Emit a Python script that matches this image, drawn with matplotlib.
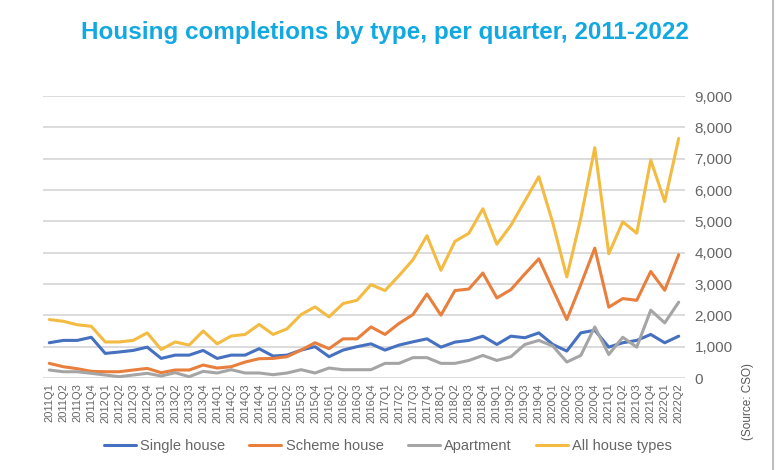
import matplotlib.pyplot as plt

# quarters 2011Q1 .. 2022Q2
quarters = [f'{y}Q{q}' for y in range(2011, 2023) for q in range(1, 5)][:46]

single_house = [1125, 1200, 1200, 1300, 785, 830, 880, 985, 625, 730,
                730, 880, 625, 730, 730, 935, 700, 730, 890, 1000,
                680, 890, 1000, 1090, 890, 1050, 1155, 1250, 985, 1145,
                1200, 1335, 1070, 1335, 1285, 1440, 1070, 860, 1440, 1525,
                985, 1125, 1200, 1390, 1125, 1335]
scheme_house = [467, 360, 297, 212, 200, 200, 255, 307, 170, 255,
                255, 414, 318, 360, 509, 615, 625, 680, 890, 1125,
                935, 1250, 1250, 1630, 1390, 1740, 2025, 2680, 2005, 2790,
                2840, 3350, 2555, 2820, 3320, 3805, 2830, 1865, 2980, 4145,
                2260, 2535, 2480, 3400, 2800, 3935]
apartment = [255, 200, 200, 150, 95, 42, 95, 150, 64, 170,
             42, 212, 160, 265, 160, 160, 106, 160, 265, 160,
             318, 265, 265, 265, 467, 467, 650, 650, 467, 467,
             560, 720, 560, 680, 1070, 1200, 1020, 510, 720, 1630,
             750, 1300, 985, 2165, 1760, 2420]
all_types = [1866, 1810, 1700, 1650, 1150, 1150, 1200, 1440, 910, 1150,
             1050, 1500, 1090, 1340, 1390, 1710, 1390, 1570, 2025, 2270,
             1950, 2375, 2480, 2980, 2790, 3265, 3775, 4540, 3436, 4360,
             4620, 5400, 4270, 4870, 5650, 6425, 4950, 3225, 5100, 7350,
             3965, 4985, 4620, 6955, 5630, 7645]

series = [
    ('Single house', single_house, '#4670C0'),
    ('Scheme house', scheme_house, '#E97F3C'),
    ('Apartment', apartment, '#A5A5A5'),
    ('All house types', all_types, '#F4BB42'),
]

plt.rcParams['font.family'] = ['Liberation Sans', 'DejaVu Sans']

fig = plt.figure(figsize=(7.8, 4.7), dpi=100)
ax = fig.add_axes([43 / 780, 1 - 378 / 470, 642 / 780, 282 / 470])

x = list(range(len(quarters)))
for name, values, colour in series:
    ax.plot(x, values, color=colour, lw=2.2, label=name, solid_capstyle='round')

ax.set_xlim(-0.45, 45.45)
ax.set_ylim(0, 9000)
ax.set_yticks(range(0, 9001, 1000))
ax.set_yticklabels([f'{v:,}' for v in range(0, 9001, 1000)])
ax.yaxis.tick_right()
ax.set_xticks(x)
ax.set_xticklabels(quarters, rotation=90, fontsize=8, color='#666666')
ax.tick_params(axis='y', length=0, pad=7, labelsize=11, labelcolor='#666666')
ax.tick_params(axis='x', length=0, pad=4)
ax.grid(axis='y', color='#D9D9D9', lw=1.3)
ax.set_axisbelow(True)
for side in ['top', 'left', 'right', 'bottom']:
    ax.spines[side].set_visible(False)

fig.suptitle('Housing completions by type, per quarter, 2011-2022',
             x=385 / 780, y=1 - 33 / 470, va='center', fontsize=17.5,
             fontweight='bold', color='#12A8E2')

fig.legend(loc='center', bbox_to_anchor=(388 / 780, 1 - 446 / 470), ncol=4,
           frameon=False, fontsize=10.5, handlelength=2.2, columnspacing=1.65,
           handletextpad=0.3, labelcolor='#666666')

fig.text(748 / 780, 1 - 402 / 470, '(Source: CSO)', rotation=90,
         ha='center', va='center', fontsize=8.5, color='#595959')
fig.add_artist(plt.Line2D([773 / 780, 773 / 780], [0, 1], color='#BFBFBF',
                          lw=1.5, transform=fig.transFigure))

fig.savefig('out.png', dpi=100)
